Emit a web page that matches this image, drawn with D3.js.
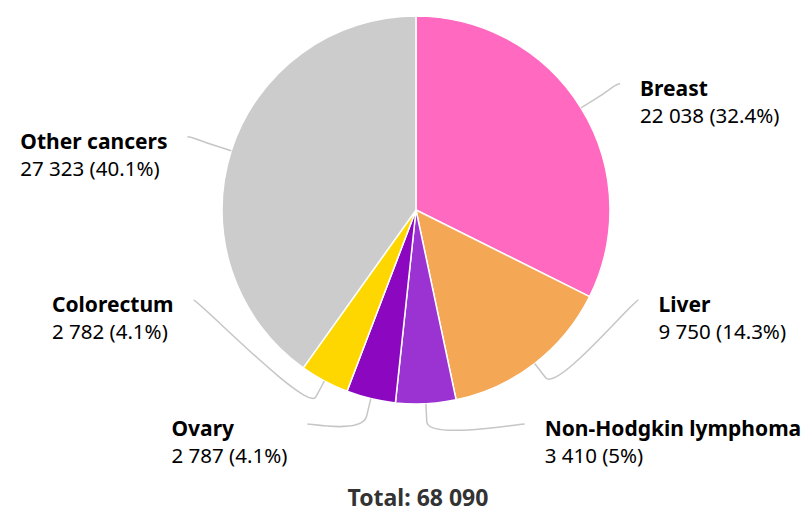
<!DOCTYPE html>
<html>
<head>
<meta charset="utf-8">
<script src="https://cdn.jsdelivr.net/npm/d3@7"></script>
<style>
  body { margin: 0; background: #fff; }
  text { font-family: "Noto Sans", sans-serif; }
</style>
</head>
<body>
<svg id="chart"></svg>
<script>
// data
const categories = ["Breast", "Liver", "Non-Hodgkin lymphoma", "Ovary", "Colorectum", "Other cancers"];
const cases = [22038, 9750, 3410, 2787, 2782, 27323];
const colors = ["#ff69c0", "#f4a755", "#9b32d2", "#8b08c0", "#ffd700", "#cccccc"];

const settings = {
  width: 801,
  height: 512,
  cx: 416,
  cy: 210,
  radius: 194,
  labelRadius: 240,
  breakOffset: 18,
  labelGap: 20,
  minSpacing: 124,
  maxLabelY: 424,
  nameSize: 21,
  valueSize: 20.5,
  totalSize: 23
};

const fmt = d3.formatLocale({ decimal: ".", thousands: " ", grouping: [3], currency: ["", ""] }).format(",d");

const total = d3.sum(cases);
const rows = categories.map((name, i) => ({ name, value: cases[i], color: colors[i] }));

const svg = d3.select("#chart")
  .attr("width", settings.width)
  .attr("height", settings.height);

const pie = d3.pie().sort(null).value(d => d.value);
const arc = d3.arc().innerRadius(0).outerRadius(settings.radius);
const arcs = pie(rows);

const g = svg.append("g").attr("transform", `translate(${settings.cx},${settings.cy})`);

g.selectAll("path.slice")
  .data(arcs)
  .join("path")
  .attr("class", "slice")
  .attr("d", arc)
  .attr("fill", d => d.data.color)
  .attr("stroke", "#fff")
  .attr("stroke-width", 1.5)
  .attr("stroke-linejoin", "round");

// label layout, roughly like highcharts does it
const { labelRadius: R, radius: r, breakOffset } = settings;
arcs.forEach(d => {
  d.mid = (d.startAngle + d.endAngle) / 2;
  d.left = d.mid > Math.PI;
  d.ly = -R * Math.cos(d.mid);
});

["left", "right"].forEach(side => {
  const items = arcs.filter(d => (side === "left") === d.left).sort((a, b) => a.ly - b.ly);
  const maxY = settings.maxLabelY - settings.cy;
  for (let i = items.length - 1; i >= 0; i--) {
    const limit = i === items.length - 1 ? maxY : items[i + 1].ly - settings.minSpacing;
    items[i].ly = Math.min(items[i].ly, limit);
  }
});

arcs.forEach(d => {
  const s = d.left ? -1 : 1;
  const dy = Math.max(-R, Math.min(R, d.ly));
  d.lx = s * Math.sqrt(R * R - dy * dy);
  d.touch = [r * Math.sin(d.mid), -r * Math.cos(d.mid)];
  d.brk = [(r + breakOffset) * Math.sin(d.mid), -(r + breakOffset) * Math.cos(d.mid)];
});

g.selectAll("path.connector")
  .data(arcs)
  .join("path")
  .attr("class", "connector")
  .attr("fill", "none")
  .attr("stroke", "#c6c6c6")
  .attr("stroke-width", 1.5)
  .attr("d", d => {
    const c1x = d.lx + (d.left ? 5 : -5);
    const c2 = [2 * d.brk[0] - d.touch[0], 2 * d.brk[1] - d.touch[1]];
    return `M${d.lx},${d.ly}C${c1x},${d.ly} ${c2[0]},${c2[1]} ${d.brk[0]},${d.brk[1]}L${d.touch[0]},${d.touch[1]}`;
  });

const labels = g.selectAll("g.label")
  .data(arcs)
  .join("g")
  .attr("class", "label");

labels.append("text")
  .attr("y", 12)
  .attr("font-size", settings.nameSize)
  .attr("font-weight", "bold")
  .attr("fill", "#000")
  .text(d => d.data.name);

labels.append("text")
  .attr("y", 39)
  .attr("font-size", settings.valueSize)
  .attr("fill", "#000")
  .text(d => `${fmt(d.data.value)} (${Math.round(d.data.value / total * 1000) / 10}%)`);

labels.attr("transform", function(d) {
  const w = d3.max(d3.select(this).selectAll("text").nodes(), n => n.getComputedTextLength());
  const x = d.left ? d.lx - settings.labelGap - w : d.lx + settings.labelGap;
  return `translate(${x},${d.ly})`;
});

svg.append("text")
  .attr("x", settings.cx + 2)
  .attr("y", 506)
  .attr("text-anchor", "middle")
  .attr("font-size", settings.totalSize)
  .attr("font-weight", "bold")
  .attr("fill", "#333")
  .text(`Total: ${fmt(total)}`);
</script>
</body>
</html>
